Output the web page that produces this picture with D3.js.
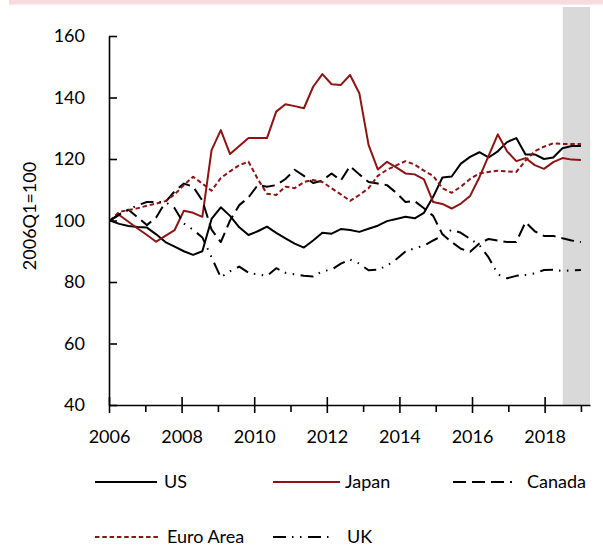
<!DOCTYPE html>
<html>
<head>
<meta charset="utf-8">
<script src="https://cdn.jsdelivr.net/npm/d3@7"></script>
<style>
  html, body { margin: 0; padding: 0; background: #fff; }
  svg { display: block; font-family: "Gill Sans", Lato, sans-serif; }
</style>
</head>
<body>
<svg id="chart" width="603" height="548"></svg>
<script>
const quarters = [
  "2006Q1","2006Q2","2006Q3","2006Q4","2007Q1","2007Q2","2007Q3","2007Q4",
  "2008Q1","2008Q2","2008Q3","2008Q4","2009Q1","2009Q2","2009Q3","2009Q4",
  "2010Q1","2010Q2","2010Q3","2010Q4","2011Q1","2011Q2","2011Q3","2011Q4",
  "2012Q1","2012Q2","2012Q3","2012Q4","2013Q1","2013Q2","2013Q3","2013Q4",
  "2014Q1","2014Q2","2014Q3","2014Q4","2015Q1","2015Q2","2015Q3","2015Q4",
  "2016Q1","2016Q2","2016Q3","2016Q4","2017Q1","2017Q2","2017Q3","2017Q4",
  "2018Q1","2018Q2","2018Q3","2018Q4"
];

const us = [100,98.9,98.2,97.9,97.7,95.5,93,91.5,90,88.8,90,100.5,104.3,101.5,97.8,95.3,
  96.5,98,96,94.2,92.5,91.2,93.5,96,95.7,97.2,96.9,96.3,97.3,98.3,99.8,100.5,
  101.2,100.7,102.5,107.7,114,114.3,118.5,120.7,122.2,120.5,122.5,125.5,126.8,121.5,
  121.5,120,120.5,123.5,124.2,124.2];

const japan = [100,101.8,99.6,97.4,95.3,93.1,95,96.9,103.2,102.5,101.2,122.9,129.4,121.6,124.2,126.8,
  126.8,126.8,135.4,137.8,137.2,136.5,143.5,147.6,144.3,144.1,147.3,141.4,124.6,116.6,119.1,117.3,
  115.3,115.0,113.4,106,105.4,103.9,105.5,108,114,121,128,122.5,119.3,120.3,
  118,116.8,119,120.3,119.8,119.7];

const canada = [100,102,103.5,101,98.5,101,106,109.5,112,111,106.5,97,93,100,105,107.5,
  111.5,111,111.5,113.5,116.5,114.5,112.2,113,115.3,113,117.7,115,112.5,112,111.5,109,
  106,106.3,104,101.5,95.5,93,90.8,89.8,92.5,94,93.5,93,93,99.5,
  96.5,95,95,94.2,93.5,93];

const euroArea = [100,102.8,103.4,104,104.8,105.5,106.3,108.5,111.5,114.2,112,109.7,113.8,116,118,119.1,
  113.5,108.7,108.3,111,110.5,112.5,113.2,112.5,110.5,108.5,106.4,108.3,110.5,114.5,116.5,117.9,
  119.3,118.2,116.2,114.5,110.5,109,111,113.5,115.3,115.8,116.2,116,115.8,119.5,
  122.5,124,125.1,124.9,124.9,124.9];

const uk = [100,102,103.5,105,106,106,106,104,99,97,94.5,88,81.5,83.5,85,83,
  82.5,82,84.5,83,82.5,82,81.8,83.5,84,86,87.3,86,83.8,84,85.3,87.4,
  89.9,91,91.8,93.5,95,97,96,94,92,88,82.5,81.2,82,82.3,
  82.8,83.9,84,83.6,83.8,83.9];

const seriesNames = ["US","Japan","Canada","Euro Area","UK"];
const yearTicks = [2006,2008,2010,2012,2014,2016,2018];
const minorTicks = [2007,2009,2011,2013,2015,2017,2019];
const yTicks = [40,60,80,100,120,140,160];
const shadeRange = [2018.5, 2019.25];

const red = "#8c1414";
const styles = {
  "US":        {color:"#000", dash:null},
  "Japan":     {color:red, dash:null},
  "Canada":    {color:"#000", dash:"13,6"},
  "Euro Area": {color:red, dash:"4.5,2.8"},
  "UK":        {color:"#000", dash:"13,6,1.5,6.5,1.5,6.5"}
};
const seriesData = {"US":us,"Japan":japan,"Canada":canada,"Euro Area":euroArea,"UK":uk};

const svg = d3.select("#chart");
const FS = 18;

// top pink band
svg.append("rect").attr("x",9).attr("y",0).attr("width",594).attr("height",4.6).attr("fill","#f6dcdc");

const xYear = d3.scaleLinear().domain([2006, 2019.25]).range([109, 590]);
const xq = d3.scalePoint().domain(quarters).range([xYear(2006)+1, xYear(2019)]);
const y = d3.scaleLinear().domain([40,160]).range([405,36]);

// shaded projection area
svg.append("rect")
  .attr("x", xYear(shadeRange[0])).attr("y", 7)
  .attr("width", xYear(shadeRange[1]) - xYear(shadeRange[0]))
  .attr("height", y(40) - 7)
  .attr("fill", "#d9d9d9");

// lines
const line = d3.line().x((d,i)=>xq(quarters[i])).y(d=>y(d));
seriesNames.forEach(n=>{
  const s = styles[n];
  svg.append("path").datum(seriesData[n])
    .attr("d", line).attr("fill","none")
    .attr("stroke", s.color).attr("stroke-width", 2)
    .attr("stroke-dasharray", s.dash)
    .attr("stroke-linejoin","round");
});

// y axis
const yAxis = d3.axisLeft(y).tickValues(yTicks).tickSizeInner(-8).tickSizeOuter(0).tickPadding(24);
const gy = svg.append("g").attr("transform","translate(109,0)").call(yAxis);
gy.select(".domain").attr("stroke","#000").attr("stroke-width",1.6);
gy.selectAll(".tick line").attr("stroke","#000").attr("stroke-width",1.6);
gy.selectAll(".tick text").attr("font-size",FS).attr("font-family","Gill Sans, Lato, sans-serif").attr("fill","#000");

// x axis major
const xAxis = d3.axisBottom(xYear).tickValues(yearTicks).tickFormat(d3.format("d")).tickSizeInner(8).tickSizeOuter(0).tickPadding(17);
const gx = svg.append("g").attr("transform","translate(0,405)").call(xAxis);
gx.select(".domain").attr("stroke","#000").attr("stroke-width",1.6);
gx.selectAll(".tick line").attr("y1",-8).attr("y2",8).attr("stroke","#000").attr("stroke-width",1.6);
gx.selectAll(".tick text").attr("font-size",FS).attr("font-family","Gill Sans, Lato, sans-serif").attr("fill","#000");

// x axis minor
const xMinor = d3.axisBottom(xYear).tickValues(minorTicks).tickFormat("").tickSizeInner(7).tickSizeOuter(0);
const gm = svg.append("g").attr("transform","translate(0,405)").call(xMinor);
gm.select(".domain").remove();
gm.selectAll(".tick line").attr("stroke","#000").attr("stroke-width",1.6);

// y title
svg.append("text")
  .attr("transform","translate(36,216) rotate(-90)")
  .attr("text-anchor","middle")
  .attr("font-size",FS).attr("fill","#000")
  .text("2006Q1=100");

// legend
const legendPos = {
  "US":        {x1:95, x2:157, tx:164, y:482},
  "Japan":     {x1:273, x2:340, tx:345, y:482},
  "Canada":    {x1:453, x2:512, tx:527, y:482},
  "Euro Area": {x1:95, x2:160, tx:167, y:537},
  "UK":        {x1:273, x2:334, tx:347, y:537}
};
seriesNames.forEach(n=>{
  const p = legendPos[n], s = styles[n];
  svg.append("line").attr("x1",p.x1).attr("x2",p.x2).attr("y1",p.y).attr("y2",p.y)
    .attr("stroke",s.color).attr("stroke-width",2).attr("stroke-dasharray",s.dash);
  svg.append("text").attr("x",p.tx).attr("y",p.y).attr("dy","0.35em")
    .attr("font-size",FS).attr("fill","#000").text(n);
});
</script>
</body>
</html>
